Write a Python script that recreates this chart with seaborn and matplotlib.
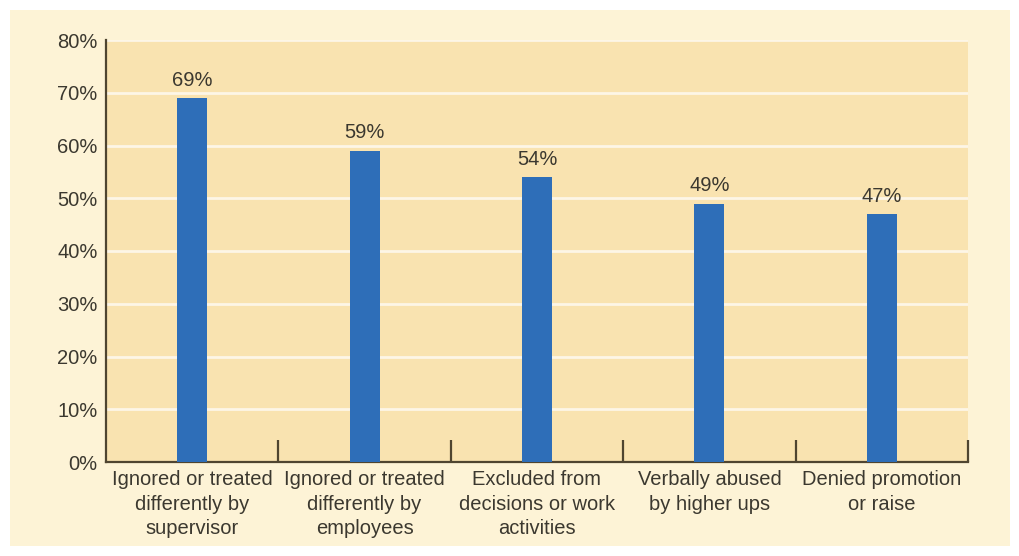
import matplotlib
matplotlib.use("Agg")
import matplotlib.pyplot as plt
import seaborn as sns
import pandas as pd
from matplotlib.patches import Rectangle
from matplotlib.ticker import FixedLocator

categories = [
    "Ignored or treated\ndifferently by\nsupervisor",
    "Ignored or treated\ndifferently by\nemployees",
    "Excluded from\ndecisions or work\nactivities",
    "Verbally abused\nby higher ups",
    "Denied promotion\nor raise",
]
values = [69, 59, 54, 49, 47]
yticks = [0, 10, 20, 30, 40, 50, 60, 70, 80]

sns.set_theme(style="white")
plt.rcParams['font.family'] = ['Liberation Sans', 'DejaVu Sans']

text_color = "#3b382f"
spine_color = "#4f4530"
fs = 14.5

fig = plt.figure(figsize=(10.19, 5.56), dpi=100)
fig.patch.set_facecolor("white")
panel = Rectangle((10/1019, 10/556), 1000/1019, 1 - 20/556,
                  transform=fig.transFigure, facecolor="#fdf3d6",
                  edgecolor="none", zorder=-10)
fig.add_artist(panel)

ax = fig.add_axes([106/1019, 1 - 462/556, (968-106)/1019, (462-40)/556])
ax.set_zorder(1)
ax.set_facecolor("#f9e3b0")

df = pd.DataFrame({"cat": categories, "val": values})
sns.barplot(data=df, x="cat", y="val", color="#2e6eb8", width=0.175,
            saturation=1, linewidth=0, ax=ax, zorder=3)

ax.set_ylim(0, 80)
ax.set_xlim(-0.5, len(categories) - 0.5)
ax.set_yticks(yticks)
ax.set_yticklabels([f"{t}%" for t in yticks])
ax.set_xlabel("")
ax.set_ylabel("")

for t in yticks[1:]:
    ax.axhline(t, color="#fdf6e6", lw=2, zorder=1)

for i, v in enumerate(values):
    ax.text(i, v + 1.6, f"{v}%", ha="center", va="bottom", fontsize=fs,
            color=text_color, zorder=4)

for s in ["top", "right"]:
    ax.spines[s].set_visible(False)
for s in ["left", "bottom"]:
    ax.spines[s].set_color(spine_color)
    ax.spines[s].set_linewidth(1.6)

ax.tick_params(axis="y", length=0, labelsize=fs, labelcolor=text_color, pad=6)
ax.tick_params(axis="x", which="major", length=0, labelsize=fs,
               labelcolor=text_color, pad=6)
for lbl in ax.get_xticklabels():
    lbl.set_linespacing(1.35)
ax.xaxis.set_minor_locator(FixedLocator([0.5, 1.5, 2.5, 3.5, 4.5]))
ax.tick_params(axis="x", which="minor", direction="in", length=16, width=1.6,
               color=spine_color, bottom=True)

fig.savefig("out.png", dpi=100)
